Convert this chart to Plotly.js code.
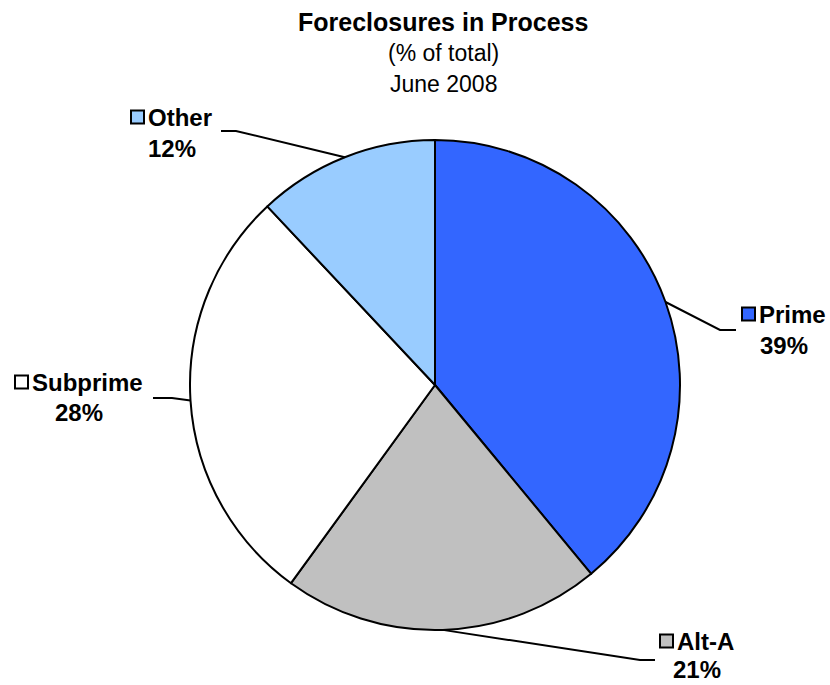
<!DOCTYPE html>
<html>
<head>
<meta charset="utf-8">
<script src="https://cdn.plot.ly/plotly-3.0.1.min.js"></script>
<style>html,body{margin:0;padding:0;background:#fff;}#chart{width:830px;height:685px;}</style>
</head>
<body>
<div id="chart"></div>
<script>
// ---- data ----
const categories = ["Prime", "Alt-A", "Subprime", "Other"];
const shares = [39, 21, 28, 12];
const colors = ["#3366FF", "#C0C0C0", "#FFFFFF", "#99CCFF"];
const titleText = "Foreclosures in Process";
const subtitle1 = "(% of total)";
const subtitle2 = "June 2008";

// ---- layout constants (pixels) ----
const W = 830, H = 685;
const CX = 435, CY = 385, R = 245;
const FONT = "Liberation Sans, Arial, sans-serif";
const LABEL_SIZE = 24;
// label placement: elbow point, end of leader, label anchor (square left x, name y), gap to % line
const labelCfg = {
  "Prime":    {elbow: [720, 330], end: [736, 330], sq: [742, 314], gap: 31},
  "Alt-A":    {elbow: [640, 660], end: [655, 660], sq: [660, 641], gap: 28},
  "Subprime": {elbow: [172, 398], end: [153, 398], sq: [15, 382], gap: 31},
  "Other":    {elbow: [236, 131], end: [221, 131], sq: [131, 117], gap: 31}
};

const px = x => x / W;
const py = y => 1 - y / H;

const shapes = [];
const annotations = [];
const total = shares.reduce((a, b) => a + b, 0);
let cum = 0;
categories.forEach((cat, i) => {
  const mid = (cum + shares[i] / 2) / total * 2 * Math.PI;
  cum += shares[i];
  const sx = CX + R * Math.sin(mid), sy = CY - R * Math.cos(mid);
  const c = labelCfg[cat];
  shapes.push({type: "path", xref: "paper", yref: "paper",
    path: `M ${px(sx)},${py(sy)} L ${px(c.elbow[0])},${py(c.elbow[1])} L ${px(c.end[0])},${py(c.end[1])}`,
    line: {color: "#000", width: 2}});
  const sqSize = 13;
  shapes.push({type: "rect", xref: "paper", yref: "paper",
    x0: px(c.sq[0]), x1: px(c.sq[0] + sqSize), y0: py(c.sq[1] - sqSize / 2), y1: py(c.sq[1] + sqSize / 2),
    fillcolor: colors[i], line: {color: "#000", width: 2}});
  annotations.push({xref: "paper", yref: "paper", x: px(c.sq[0] + sqSize + 3), y: py(c.sq[1]),
    xanchor: "left", yanchor: "middle", showarrow: false, borderpad: 0,
    text: "<b>" + cat + "</b>", font: {family: FONT, size: LABEL_SIZE, color: "#000"}});
  annotations.push({xref: "paper", yref: "paper", x: px(c.sq[0]), y: py(c.sq[1] + c.gap),
    xanchor: "left", yanchor: "middle", showarrow: false, borderpad: 0,
    text: "<b>" + Math.round(shares[i] / total * 100) + "%</b>", font: {family: FONT, size: LABEL_SIZE, color: "#000"}});
});

// title lines
annotations.push({xref: "paper", yref: "paper", x: px(443), y: py(22), xanchor: "center", yanchor: "middle",
  showarrow: false, text: "<b>" + titleText + "</b>", font: {family: FONT, size: 25, color: "#000"}});
annotations.push({xref: "paper", yref: "paper", x: px(443), y: py(53), xanchor: "center", yanchor: "middle",
  showarrow: false, text: subtitle1, font: {family: FONT, size: 23, color: "#000"}});
annotations.push({xref: "paper", yref: "paper", x: px(443), y: py(84), xanchor: "center", yanchor: "middle",
  showarrow: false, text: subtitle2, font: {family: FONT, size: 23, color: "#000"}});

const trace = {
  type: "pie", values: shares, labels: categories, sort: false, direction: "clockwise", rotation: 0,
  marker: {colors: colors, line: {color: "#000", width: 2}},
  textinfo: "none", hoverinfo: "none", showlegend: false,
  domain: {x: [px(CX - R), px(CX + R)], y: [py(CY + R), py(CY - R)]}
};

const layout = {
  width: W, height: H, margin: {l: 0, r: 0, t: 0, b: 0},
  paper_bgcolor: "#fff", plot_bgcolor: "#fff", showlegend: false,
  shapes: shapes, annotations: annotations
};

Plotly.newPlot("chart", [trace], layout, {displayModeBar: false, staticPlot: true}).then(gd => {
  // centre each percentage under its label block
  const nodes = gd.querySelectorAll(".annotation");
  const updates = {};
  categories.forEach((cat, i) => {
    const bb = nodes[i * 2].getBoundingClientRect();
    const c = labelCfg[cat];
    const centre = (c.sq[0] + bb.right) / 2;
    updates["annotations[" + (i * 2 + 1) + "].x"] = px(centre);
    updates["annotations[" + (i * 2 + 1) + "].xanchor"] = "center";
  });
  Plotly.relayout(gd, updates);
});
</script>
</body>
</html>
